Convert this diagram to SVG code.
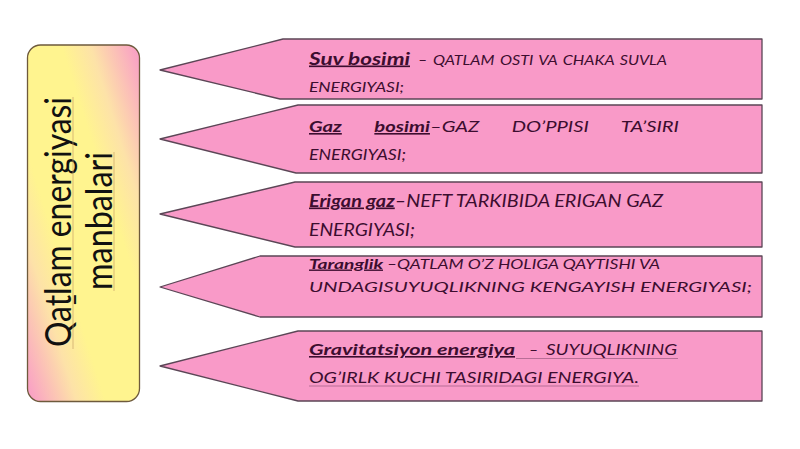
<svg xmlns="http://www.w3.org/2000/svg" width="800" height="449" viewBox="0 0 800 449">
<defs>
<linearGradient id="boxGrad" x1="1" y1="0" x2="0" y2="1">
<stop offset="0" stop-color="#f99ac8"/>
<stop offset="0.22" stop-color="#fde2a8"/>
<stop offset="0.35" stop-color="#fff48f"/>
<stop offset="0.65" stop-color="#fff48f"/>
<stop offset="0.78" stop-color="#fde2a8"/>
<stop offset="1" stop-color="#f99ac8"/>
</linearGradient>
<style>
.arrow{fill:#f99ac8;stroke:#5b4656;stroke-width:1.3;stroke-linejoin:round}
.t{font-family:Lato,"Open Sans","Liberation Sans",sans-serif;font-style:italic;fill:#3c0d2f}
.k{font-weight:bold;text-decoration:underline}
.side{font-family:Lato,"Open Sans","Liberation Sans",sans-serif;fill:#111}
.ul{stroke:#c9a46a;stroke-width:1;opacity:0.7}
.fu{stroke:#6a3a5a;stroke-width:1;opacity:0.45}
</style>
</defs>
<rect width="800" height="449" fill="#ffffff"/>

<g id="source-box">
<rect x="27.5" y="45" width="112" height="356.5" rx="13" ry="13" fill="url(#boxGrad)" stroke="#6e5a3c" stroke-width="1.3"/>
<text class="side" font-size="36" transform="translate(71,347) rotate(-90)" textLength="250" lengthAdjust="spacingAndGlyphs">Qatlam energiyasi</text>
<text class="side" font-size="36" transform="translate(112,290) rotate(-90)" textLength="138" lengthAdjust="spacingAndGlyphs">manbalari</text>
<line class="ul" x1="73" y1="97" x2="73" y2="349"/>
<line class="ul" x1="114" y1="152" x2="114" y2="291"/>
<text class="side" font-size="22" font-weight="bold" transform="translate(82,306) rotate(-90)">–</text>
</g>

<g id="connectors"></g>

<g id="suv-bosimi">
<path class="arrow" d="M160,70 L283,39 L762,39 L762,99 L280,99 Z"/>
<text class="t k" x="309" y="64.5" font-size="16.5" textLength="101" lengthAdjust="spacingAndGlyphs">Suv bosimi</text>
<text class="t" x="418" y="64.5" font-size="14" word-spacing="1.5" textLength="249" lengthAdjust="spacingAndGlyphs">– QATLAM OSTI VA CHAKA SUVLA</text>
<text class="t" x="309" y="92" font-size="14" textLength="95" lengthAdjust="spacingAndGlyphs">ENERGIYASI;</text>
</g>

<g id="gaz-bosimi">
<path class="arrow" d="M160,139 L298,105 L762,105 L762,173 L296,173 Z"/>
<text class="t" x="309" y="132" font-size="16" word-spacing="22" textLength="370" lengthAdjust="spacingAndGlyphs"><tspan class="k">Gaz</tspan> <tspan class="k">bosimi</tspan>–GAZ DO’PPISI TA’SIRI</text>
<text class="t" x="309" y="160" font-size="16" textLength="97" lengthAdjust="spacingAndGlyphs">ENERGIYASI;</text>
</g>

<g id="erigan-gaz">
<path class="arrow" d="M160,214 L295,182 L762,182 L762,247 L295,247 Z"/>
<text class="t" x="309" y="206.5" font-size="16.5" textLength="354" lengthAdjust="spacingAndGlyphs"><tspan class="k">Erigan gaz</tspan>–NEFT TARKIBIDA ERIGAN GAZ</text>
<text class="t" x="309" y="236" font-size="17.5" textLength="106" lengthAdjust="spacingAndGlyphs">ENERGIYASI;</text>
</g>

<g id="taranglik">
<path class="arrow" d="M160,287 L260,256 L762,256 L762,317 L260,317 Z"/>
<text class="t k" x="309" y="268.5" font-size="14" textLength="74" lengthAdjust="spacingAndGlyphs">Taranglik</text>
<text class="t" x="387" y="268.5" font-size="14" textLength="273" lengthAdjust="spacingAndGlyphs">–QATLAM O’Z HOLIGA QAYTISHI VA</text>
<text class="t" x="309" y="291.5" font-size="14" textLength="443" lengthAdjust="spacingAndGlyphs">UNDAGISUYUQLIKNING KENGAYISH ENERGIYASI;</text>
</g>

<g id="gravitatsiyon-energiya">
<path class="arrow" d="M160,366 L298,331 L762,331 L762,401 L298,401 Z"/>
<text class="t k" x="309" y="355" font-size="16" textLength="206" lengthAdjust="spacingAndGlyphs">Gravitatsiyon energiya</text>
<text class="t" x="529" y="355" font-size="16">–</text>
<text class="t" x="546" y="355" font-size="16" textLength="131" lengthAdjust="spacingAndGlyphs">SUYUQLIKNING</text>
<line class="fu" x1="516" y1="358.5" x2="678" y2="358.5"/>
<text class="t" x="309" y="382.5" font-size="16" textLength="330" lengthAdjust="spacingAndGlyphs">OG’IRLK KUCHI TASIRIDAGI ENERGIYA.</text>
<line class="fu" x1="309" y1="386" x2="639" y2="386"/>
</g>
</svg>
